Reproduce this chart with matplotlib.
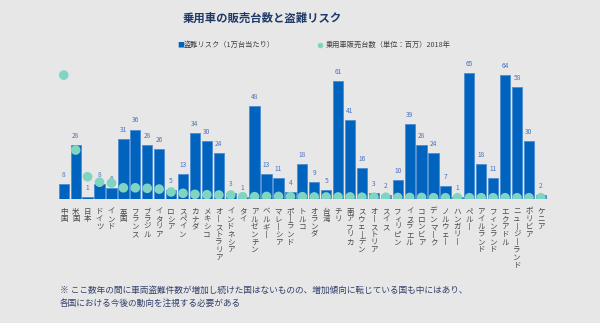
import matplotlib.pyplot as plt
import numpy as np

plt.rcParams['font.family'] = ['Noto Sans CJK JP', 'DejaVu Sans']

# Countries (left to right)
countries = ['中国', '米国', '日本', 'ドイツ', 'インド', '英国', 'フランス', 'ブラジル',
             'イタリア', 'ロシア', 'スペイン', 'カナダ', 'メキシコ', 'オーストラリア',
             'インドネシア', 'タイ', 'アルゼンチン', 'ベルギー', 'マレーシア', 'ポーランド',
             'トルコ', 'オランダ', '台湾', 'チリ', '南アフリカ', 'スウェーデン',
             'オーストリア', 'スイス', 'フィリピン', 'イスラエル', 'コロンビア', 'デンマーク',
             'ノルウェー', 'ハンガリー', 'ペルー', 'アイルランド', 'フィンランド',
             'エクアドル', 'ニュージーランド', 'ボリビア', 'ケニア']

# Theft risk (per 10,000 cars)
theft_risk = [8, 28, 1, 8, 6, 31, 36, 28, 26, 5, 13, 34, 30, 24, 3, 1, 48, 13, 11, 4,
              18, 9, 5, 61, 41, 16, 3, 2, 10, 39, 28, 24, 7, 1, 65, 18, 11, 64, 58, 30, 2]

# Passenger car sales 2018 (millions)
car_sales = [23.7, 9.4, 4.3, 3.25, 3.1, 2.2, 2.2, 2.1, 1.95, 1.4, 1.15, 0.95, 0.88, 0.82,
             0.82, 0.5, 0.5, 0.55, 0.55, 0.5, 0.5, 0.45, 0.45, 0.45, 0.45, 0.4, 0.4, 0.4,
             0.35, 0.35, 0.35, 0.3, 0.3, 0.3, 0.3, 0.3, 0.3, 0.3, 0.3, 0.3, 0.3]

bg = '#e7e7e7'
bar_color = '#0063be'
dot_color = '#7fd5c1'

fig = plt.figure(figsize=(6, 3.23), dpi=100, facecolor=bg)
ax = fig.add_axes([40 / 600, 123.7 / 323, 520 / 600, 135.7 / 323])
ax.set_facecolor(bg)

x = np.arange(len(countries))
ax.bar(x, theft_risk, width=0.86, color=bar_color, edgecolor='#4d8bd4', linewidth=0.6, zorder=2)
ax.set_xlim(-1.99, 41.6)
ax.set_ylim(0, 70)

for xi, v in zip(x, theft_risk):
    ax.annotate(str(v), xy=(xi, v), xytext=(0, 6.5), textcoords='offset points',
                ha='center', va='center', fontsize=4.8, color='#4a72c4')

# vertical country names, one character per row
for xi, name in zip(x, countries):
    for j, ch in enumerate(name):
        if ch == 'ー':
            ch = '丨'
        ax.annotate(ch, xy=(xi, 0), xytext=(0, -8.9 - j * 5.55), textcoords='offset points',
                    ha='center', va='center', fontsize=5.4, color='#4a4a4a',
                    annotation_clip=False)

ax.axhline(0, color='#cfcfcf', linewidth=0.8, zorder=1)
for s in ax.spines.values():
    s.set_visible(False)
ax.set_xticks([])
ax.set_yticks([])

# sales dots on their own scale
ax2 = ax.twinx()
ax2.set_ylim(0, 25.9)
ax2.scatter(x, car_sales, s=48, color=dot_color, edgecolors='none', zorder=3)
ax2.set_yticks([])
for s in ax2.spines.values():
    s.set_visible(False)

fig.text(262 / 600, 1 - 18 / 323, '乗用車の販売台数と盗難リスク', ha='center', va='center',
         fontsize=8.2, fontweight='bold', color='#1f3a68')

# legend
fig.text(177 / 600, 1 - 45 / 323, '■', ha='left', va='center', fontsize=5, color=bar_color)
fig.text(184 / 600, 1 - 45 / 323, '盗難リスク（1万台当たり）', ha='left', va='center',
         fontsize=5.2, color='#404040')
fig.add_artist(plt.Line2D([320 / 600], [1 - 45 / 323], marker='o', markersize=3,
                          color=dot_color, linestyle='none'))
fig.text(326 / 600, 1 - 45 / 323, '乗用車販売台数（単位：百万）2018年', ha='left', va='center',
         fontsize=5.2, color='#404040')

# footnote
fig.text(60 / 600, 1 - 290 / 323,
         '※ ここ数年の間に車両盗難件数が増加し続けた国はないものの、増加傾向に転じている国も中にはあり、',
         ha='left', va='center', fontsize=6.25, color='#34406a')
fig.text(60 / 600, 1 - 303 / 323, '各国における今後の動向を注視する必要がある',
         ha='left', va='center', fontsize=6.25, color='#34406a')

fig.savefig('out.png', dpi=100, facecolor=bg)
